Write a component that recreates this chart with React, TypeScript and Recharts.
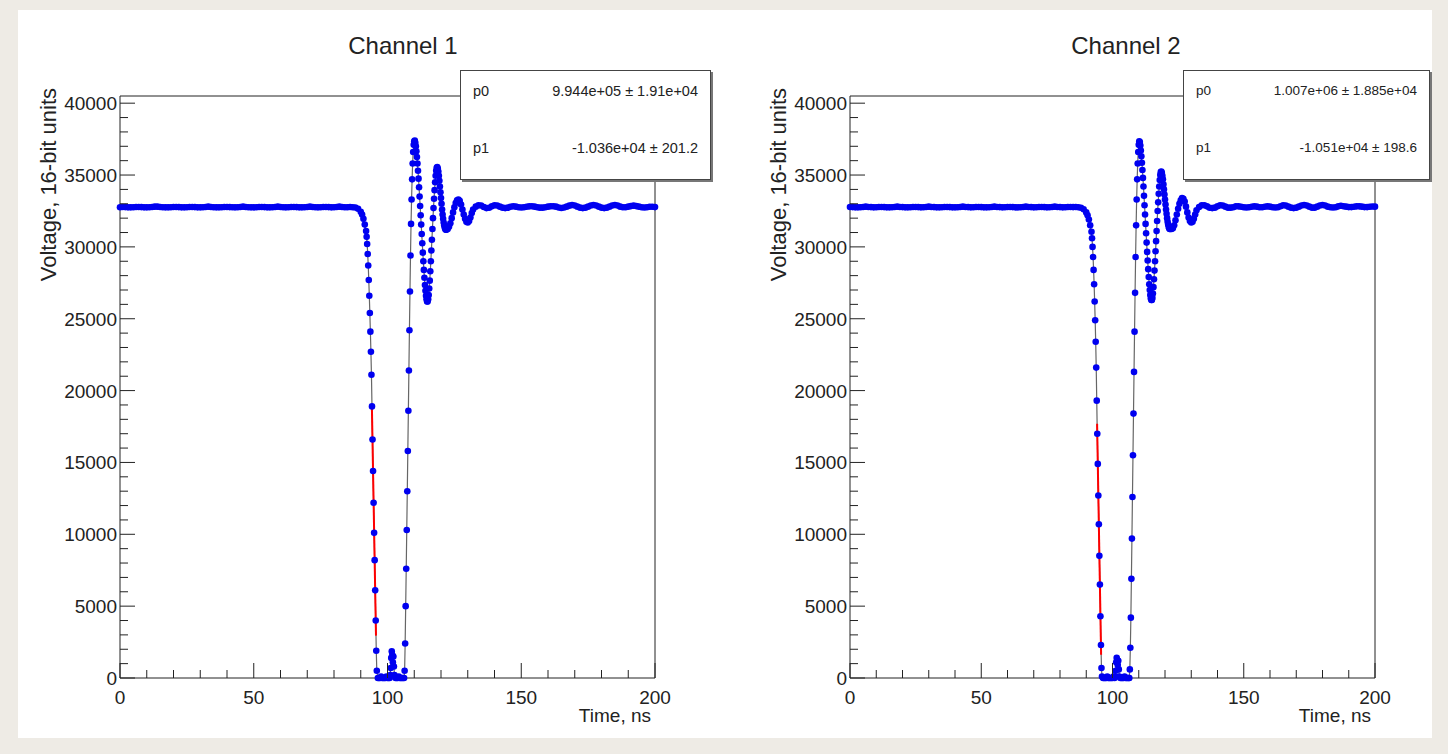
import { ComposedChart, Line, Scatter, XAxis, YAxis } from "recharts";

// sample times in ns: 1 ns along the flat baseline, finer through the pulse
const timeNs = [
  0, 1, 2, 3, 4, 5, 6, 7, 8, 9,
  10, 11, 12, 13, 14, 15, 16, 17, 18, 19,
  20, 21, 22, 23, 24, 25, 26, 27, 28, 29,
  30, 31, 32, 33, 34, 35, 36, 37, 38, 39,
  40, 41, 42, 43, 44, 45, 46, 47, 48, 49,
  50, 51, 52, 53, 54, 55, 56, 57, 58, 59,
  60, 61, 62, 63, 64, 65, 66, 67, 68, 69,
  70, 71, 72, 73, 74, 75, 76, 77, 78, 79,
  80, 81, 82, 83, 84, 85, 86, 87, 88, 89,
  90,
  90.5, 91, 91.5, 92,
  92.2, 92.4, 92.6, 92.8, 93, 93.2, 93.4, 93.6, 93.8, 94,
  94.2, 94.4, 94.6, 94.8, 95, 95.2, 95.4, 95.6, 95.8, 96,
  96.4, 96.8, 97.2, 97.6, 98, 98.4, 98.8, 99.2, 99.6, 100, 100.4, 100.8,
  101, 101.2, 101.4, 101.6, 101.8, 102, 102.2, 102.4, 102.6,
  103, 103.4, 103.8, 104.2, 104.6, 105, 105.4, 105.8, 106.2,
  106.4, 106.6, 106.8, 107, 107.2, 107.4, 107.6, 107.8, 108, 108.2,
  108.4, 108.6, 108.8, 109, 109.2, 109.4, 109.6, 109.8, 110, 110.2, 110.4,
  110.6, 110.8, 111, 111.2, 111.4, 111.6, 111.8,
  112, 112.2, 112.4, 112.6, 112.8,
  113, 113.2, 113.4, 113.6, 113.8,
  114, 114.2, 114.4, 114.6, 114.8,
  115, 115.2, 115.4, 115.6, 115.8,
  116, 116.2, 116.4, 116.6, 116.8,
  117, 117.2, 117.4, 117.6, 117.8,
  118, 118.2, 118.4, 118.6, 118.8,
  119, 119.2, 119.4, 119.6, 119.8,
  120, 120.2, 120.4, 120.6, 120.8,
  121, 121.2, 121.4, 121.6, 121.8,
  122,
  122.5, 123, 123.5, 124, 124.5, 125, 125.5, 126, 126.5, 127,
  127.5, 128, 128.5, 129, 129.5, 130, 130.5, 131, 131.5, 132,
  133, 134, 135, 136, 137, 138, 139, 140, 141, 142,
  143, 144, 145, 146, 147, 148, 149, 150, 151, 152,
  153, 154, 155, 156, 157, 158, 159, 160, 161, 162,
  163, 164, 165, 166, 167, 168, 169, 170, 171, 172,
  173, 174, 175, 176, 177, 178, 179, 180, 181, 182,
  183, 184, 185, 186, 187, 188, 189, 190, 191, 192,
  193, 194, 195, 196, 197, 198, 199, 200,
];

// channel 1 ADC counts, one per sample time
const ch1Voltage = [
  32760, 32780, 32770, 32750, 32750, 32760, 32780, 32780, 32770, 32750,
  32750, 32760, 32780, 32800, 32800, 32780, 32760, 32750, 32750, 32760,
  32780, 32780, 32770, 32750, 32750, 32760, 32780, 32780, 32770, 32750,
  32750, 32760, 32780, 32800, 32780, 32760, 32750, 32750, 32760, 32780,
  32780, 32770, 32760, 32750, 32760, 32780, 32800, 32780, 32760, 32750,
  32750, 32760, 32780, 32780, 32770, 32750, 32750, 32760, 32780, 32800,
  32780, 32760, 32750, 32760, 32780, 32780, 32770, 32750, 32750, 32760,
  32780, 32800, 32780, 32760, 32750, 32760, 32780, 32780, 32770, 32750,
  32760, 32780, 32800, 32780, 32760, 32760, 32780, 32760, 32740, 32650,
  32450,
  32250, 31950, 31550, 31100,
  30700, 30200, 29500, 28700, 27700, 26600, 25400, 24100, 22700, 21100,
  18900, 16600, 14400, 12200, 10100, 8200, 6100, 4000, 1900, 500,
  0, 0, 0, 100, 0, 0, 0, 0, 100, 0, 0, 0,
  200, 700, 1400, 1850, 1600, 1100, 1500, 800, 200,
  0, 0, 0, 100, 0, 0, 0, 0, 0,
  500, 2400, 5000, 7600, 10300, 13000, 15800, 18600, 21400, 24200,
  26900, 29400, 31600, 33300, 34700, 35800, 36600, 37100, 37350, 37400, 37250,
  37000, 36650, 36250, 35800, 35300, 34750, 34150,
  33500, 32850, 32200, 31550, 30900,
  30250, 29600, 29000, 28400, 27850,
  27350, 26950, 26600, 26350, 26200,
  26200, 26350, 26650, 27100, 27650,
  28300, 29000, 29750, 30500, 31250,
  32000, 32700, 33350, 33950, 34500,
  34950, 35300, 35500, 35550, 35450,
  35250, 34950, 34600, 34200, 33800,
  33400, 33000, 32600, 32250, 31950,
  31700, 31500, 31350, 31250, 31200,
  31200,
  31250, 31400, 31650, 32000, 32400, 32750, 33050, 33250, 33300, 33200,
  32950, 32600, 32250, 31950, 31750, 31700, 31800, 32050, 32350, 32600,
  32800, 32900, 32880, 32780, 32700, 32720, 32820, 32900, 32880, 32800,
  32730, 32700, 32730, 32790, 32830, 32800, 32760, 32740, 32760, 32790,
  32820, 32830, 32800, 32760, 32730, 32730, 32760, 32800, 32830, 32830,
  32800, 32740, 32710, 32740, 32800, 32870, 32910, 32880, 32800, 32730,
  32700, 32730, 32800, 32880, 32920, 32880, 32800, 32730, 32700, 32730,
  32800, 32880, 32920, 32880, 32800, 32760, 32760, 32800, 32840, 32870,
  32840, 32800, 32760, 32740, 32760, 32790, 32790, 32770,
];

// channel 2 ADC counts
const ch2Voltage = [
  32780, 32770, 32750, 32750, 32760, 32780, 32800, 32780, 32770, 32750,
  32760, 32780, 32780, 32770, 32750, 32750, 32760, 32780, 32800, 32780,
  32770, 32750, 32750, 32760, 32780, 32780, 32770, 32750, 32760, 32780,
  32800, 32780, 32770, 32750, 32750, 32760, 32780, 32780, 32770, 32750,
  32750, 32760, 32780, 32800, 32780, 32770, 32750, 32760, 32780, 32780,
  32770, 32750, 32750, 32760, 32780, 32800, 32780, 32770, 32750, 32760,
  32780, 32780, 32770, 32750, 32750, 32760, 32780, 32800, 32780, 32770,
  32750, 32760, 32780, 32780, 32770, 32750, 32760, 32780, 32800, 32780,
  32770, 32750, 32760, 32780, 32780, 32770, 32780, 32760, 32720, 32620,
  32400,
  32200, 31900, 31500, 31050,
  30600, 30000, 29300, 28400, 27400, 26200, 24900, 23400, 21600, 19300,
  17000, 14900, 12700, 10700, 8500, 6500, 4300, 2300, 700, 100,
  0, 0, 0, 0, 100, 0, 0, 0, 0, 0, 100, 0,
  100, 500, 1100, 1400, 1250, 900, 1200, 600, 100,
  0, 0, 0, 0, 100, 0, 0, 0, 0,
  0, 600, 2100, 4200, 6900, 9700, 12600, 15500, 18400, 21300,
  24100, 26800, 29300, 31500, 33300, 34700, 35800, 36600, 37100, 37350, 37300,
  37050, 36700, 36300, 35850, 35350, 34800, 34200,
  33550, 32900, 32250, 31600, 30950,
  30300, 29650, 29050, 28450, 27900,
  27400, 27000, 26650, 26400, 26300,
  26300, 26450, 26750, 27200, 27750,
  28350, 29000, 29700, 30400, 31100,
  31800, 32500, 33100, 33700, 34200,
  34650, 35000, 35200, 35250, 35150,
  34950, 34700, 34350, 34000, 33650,
  33300, 32950, 32600, 32300, 32000,
  31750, 31550, 31400, 31300, 31250,
  31250,
  31250, 31300, 31500, 31850, 32250, 32650, 33000, 33250, 33400, 33350,
  33150, 32800, 32400, 32050, 31800, 31700, 31750, 31950, 32250, 32550,
  32780, 32900, 32900, 32820, 32720, 32700, 32730, 32820, 32900, 32880,
  32800, 32730, 32730, 32760, 32820, 32820, 32790, 32760, 32740, 32760,
  32790, 32820, 32800, 32760, 32760, 32790, 32820, 32800, 32760, 32740,
  32760, 32830, 32900, 32880, 32800, 32730, 32700, 32730, 32800, 32880,
  32920, 32880, 32800, 32730, 32730, 32800, 32880, 32920, 32880, 32800,
  32760, 32740, 32760, 32820, 32860, 32830, 32800, 32770, 32770, 32790,
  32820, 32820, 32800, 32770, 32770, 32790, 32810, 32800,
];

// linear fits (p0 + p1*t) on the falling edge
const ch1Fit = { p0: 9.944e5, p1: -1.036e4 };
const ch2Fit = { p0: 1.007e6, p1: -1.051e4 };
const ch1FitRange = [94.15, 95.7];
const ch2FitRange = [94.13, 95.66];
const ch1StatText = ["9.944e+05 \u00b1 1.91e+04", "-1.036e+04 \u00b1 201.2"];
const ch2StatText = ["1.007e+06 \u00b1 1.885e+04", "-1.051e+04 \u00b1 198.6"];
const statNames = ["p0", "p1"];

const timeTicks = [0, 10, 20, 30, 40, 50, 60, 70, 80, 90, 100, 110, 120, 130, 140, 150, 160, 170, 180, 190, 200];
const voltTicks = [
  0, 1000, 2000, 3000, 4000, 5000, 6000, 7000, 8000, 9000,
  10000, 11000, 12000, 13000, 14000, 15000, 16000, 17000, 18000, 19000,
  20000, 21000, 22000, 23000, 24000, 25000, 26000, 27000, 28000, 29000,
  30000, 31000, 32000, 33000, 34000, 35000, 36000, 37000, 38000, 39000,
  40000,
];

const Y_MAX = 40500;
const PAGE_W = 1448;
const PAGE_H = 754;
const PANEL_W = 724;
const PLOT_TOP = 96;
const PLOT_BOTTOM = 678;
const FONT = '"Liberation Sans", Arial, Helvetica, sans-serif';
const INK = "#222";

function TimeTick({ x, y, payload }: any) {
  const major = payload.value % 50 === 0;
  return (
    <g>
      <line x1={x} y1={y} x2={x} y2={y - (major ? 15 : 8)} stroke={INK} />
      {major && (
        <text x={x} y={y + 26} textAnchor="middle" fontFamily={FONT} fontSize={19} fill={INK}>
          {payload.value}
        </text>
      )}
    </g>
  );
}

function VoltTick({ x, y, payload }: any) {
  const major = payload.value % 5000 === 0;
  return (
    <g>
      <line x1={x} y1={y} x2={x + (major ? 15 : 8)} y2={y} stroke={INK} />
      {major && (
        <text x={x - 3} y={y + 7} textAnchor="end" fontFamily={FONT} fontSize={19} fill={INK}>
          {payload.value}
        </text>
      )}
    </g>
  );
}

const marker = (p: any) => <circle cx={p.cx} cy={p.cy} r={3.3} fill="#0000f0" />;

const panels = [
  {
    title: "Channel 1", titleX: 403, x0: 0, plotLeft: 120, plotRight: 655,
    boxLeft: 460, boxRight: 711, statSize: 14.5,
    volts: ch1Voltage, fit: ch1Fit, fitRange: ch1FitRange, stats: ch1StatText,
  },
  {
    title: "Channel 2", titleX: 1126, x0: 724, plotLeft: 850, plotRight: 1375,
    boxLeft: 1183, boxRight: 1430, statSize: 13.5,
    volts: ch2Voltage, fit: ch2Fit, fitRange: ch2FitRange, stats: ch2StatText,
  },
];

function ChannelPlot({ panel }: { panel: (typeof panels)[number] }) {
  const points = timeNs.map((t, i) => ({ t, v: panel.volts[i] }));
  const fitLine = panel.fitRange.map((t) => ({ t, v: panel.fit.p0 + panel.fit.p1 * t }));
  // every axis is 1px thick, so the margins put the frame exactly on the plot box
  return (
    <div style={{ position: "absolute", left: panel.x0, top: 0 }}>
      <ComposedChart
        width={PANEL_W}
        height={PAGE_H}
        margin={{
          top: PLOT_TOP - 1,
          bottom: PAGE_H - PLOT_BOTTOM - 1,
          left: panel.plotLeft - panel.x0 - 1,
          right: panel.x0 + PANEL_W - panel.plotRight - 1,
        }}
      >
        <XAxis
          type="number" dataKey="t" domain={[0, 200]} ticks={timeTicks} interval={0}
          height={1} tickSize={0} tickMargin={0} tick={<TimeTick />} stroke={INK}
        />
        <YAxis
          type="number" domain={[0, Y_MAX]} ticks={voltTicks} interval={0}
          width={1} tickSize={0} tickMargin={0} tick={<VoltTick />} stroke={INK}
        />
        <XAxis xAxisId="top" orientation="top" type="number" domain={[0, 200]}
          height={1} tick={false} tickLine={false} stroke={INK} />
        <YAxis yAxisId="right" orientation="right" type="number" domain={[0, Y_MAX]}
          width={1} tick={false} tickLine={false} stroke={INK} />
        <Line data={points} dataKey="v" type="linear" stroke="#666" strokeWidth={1.2}
          dot={false} isAnimationActive={false} />
        <Line data={fitLine} dataKey="v" type="linear" stroke="#ff0000" strokeWidth={2}
          dot={false} isAnimationActive={false} />
        <Scatter data={points} dataKey="v" shape={marker} isAnimationActive={false} />
      </ComposedChart>
    </div>
  );
}

function StatBox({ panel }: { panel: (typeof panels)[number] }) {
  const top = 70;
  const rowCenters = [90, 147];
  return (
    <div
      style={{
        position: "absolute", left: panel.boxLeft, top, width: panel.boxRight - panel.boxLeft,
        height: 110, boxSizing: "border-box", background: "#fff",
        border: "1px solid #444", boxShadow: "2px 2px 0 #777",
        fontFamily: FONT, fontSize: panel.statSize, color: INK,
      }}
    >
      {statNames.map((name, i) => (
        <div
          key={name}
          style={{
            position: "absolute", left: 12, right: 12, top: rowCenters[i] - top - 9,
            lineHeight: "18px", display: "flex", justifyContent: "space-between",
          }}
        >
          <span>{name}</span>
          <span>{panel.stats[i]}</span>
        </div>
      ))}
    </div>
  );
}

export default function App() {
  return (
    <div style={{ position: "absolute", left: 0, top: 0, width: PAGE_W, height: PAGE_H, background: "#eeebe5", overflow: "hidden" }}>
      <div style={{ position: "absolute", left: 18, top: 10, width: 1414, height: 728, background: "#fff" }} />
      {panels.map((p) => (
        <ChannelPlot key={p.title} panel={p} />
      ))}
      <svg width={PAGE_W} height={PAGE_H} style={{ position: "absolute", left: 0, top: 0, pointerEvents: "none" }}>
        {panels.map((p) => (
          <g key={p.title} fontFamily={FONT} fill={INK}>
            <text x={p.titleX} y={54} textAnchor="middle" fontSize={24}>
              {p.title}
            </text>
            <text x={p.plotRight - 4} y={722} textAnchor="end" fontSize={19}>
              Time, ns
            </text>
            <text
              transform={`translate(${p.plotLeft - 64}, ${PLOT_TOP - 8}) rotate(-90)`}
              textAnchor="end" fontSize={22}
            >
              Voltage, 16-bit units
            </text>
          </g>
        ))}
      </svg>
      {panels.map((p) => (
        <StatBox key={p.title} panel={p} />
      ))}
    </div>
  );
}
